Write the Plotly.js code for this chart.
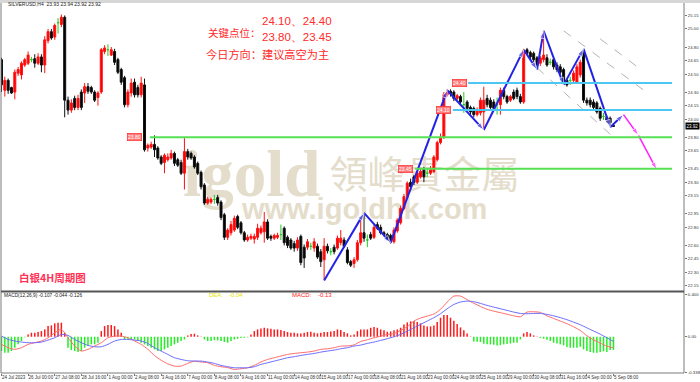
<!DOCTYPE html>
<html><head><meta charset="utf-8">
<script src="https://cdn.plot.ly/plotly-3.0.1.min.js"></script>
<style>html,body{margin:0;padding:0;background:#fff}#chart{width:700px;height:382px}</style>
</head><body><div id="chart"></div>
<script>
// ---------------- DATA ----------------
const openP = [24.66,24.32,24.43,24.35,24.30,24.51,24.49,24.60,24.62,24.66,24.67,24.62,24.69,24.60,24.87,24.97,24.91,25.07,25.05,25.13,
24.21,24.10,24.23,24.13,24.30,24.29,24.36,24.35,24.30,24.24,24.30,24.75,24.77,24.71,24.75,24.66,24.55,24.46,24.16,24.29,
24.41,24.35,24.27,24.38,23.68,23.69,23.72,23.68,23.58,23.52,23.55,23.57,23.62,23.55,23.52,23.40,23.64,23.62,23.58,23.51,
23.41,23.27,23.07,23.08,23.11,23.13,23.08,22.94,22.69,22.74,22.77,22.92,22.85,22.74,22.66,22.68,22.67,22.69,22.74,22.75,
22.86,22.70,22.68,22.69,22.72,22.79,22.69,22.66,22.62,22.57,22.70,22.58,22.58,22.59,22.57,22.59,22.53,22.44,22.59,22.53,
22.58,22.57,22.63,22.66,22.55,22.42,22.40,22.44,22.63,22.74,22.66,22.72,22.69,22.83,22.80,22.74,22.72,22.71,22.64,22.76,
22.85,23.01,23.14,23.30,23.36,23.30,23.36,23.44,23.40,23.40,23.42,23.55,23.74,23.80,24.27,24.31,24.30,24.23,24.25,24.16,
24.19,24.13,24.12,24.05,24.07,24.08,24.23,24.21,24.19,24.16,24.16,24.32,24.25,24.21,24.30,24.32,24.25,24.19,24.77,24.74,
24.73,24.68,24.62,24.66,24.68,24.63,24.66,24.60,24.58,24.55,24.43,24.43,24.43,24.41,24.49,24.74,24.21,24.21,24.19,24.18,
24.12,24.03,24.02,24.01,23.93];
const highP = [24.68,24.47,24.45,24.36,24.55,24.58,24.64,24.68,24.75,24.69,24.72,24.73,24.72,24.92,25.00,25.00,25.06,25.12,25.16,25.15,
24.25,24.22,24.26,24.27,24.33,24.40,24.40,24.37,24.32,24.31,24.79,24.82,24.83,24.80,24.78,24.68,24.57,24.48,24.33,24.45,
24.45,24.38,24.47,24.45,23.73,23.75,23.82,23.70,23.60,23.62,23.62,23.66,23.64,23.57,23.55,23.79,23.67,23.64,23.60,23.53,
23.43,23.29,23.14,23.13,23.16,23.16,23.10,22.96,22.79,22.87,22.93,22.94,22.87,22.76,22.72,22.73,22.73,22.84,22.82,22.97,
22.89,22.72,22.73,22.74,22.83,22.81,22.71,22.68,22.65,22.69,22.72,22.61,22.67,22.63,22.68,22.62,22.56,22.68,22.62,22.57,
22.61,22.71,22.77,22.69,22.58,22.44,22.47,22.66,22.90,22.96,22.72,22.75,22.83,22.86,22.83,22.76,22.74,22.73,22.80,22.90,
23.04,23.17,23.31,23.34,23.38,23.43,23.46,23.47,23.45,23.48,23.60,23.76,23.84,24.30,24.33,24.33,24.32,24.28,24.27,24.30,
24.21,24.15,24.14,24.13,24.24,24.36,24.27,24.24,24.22,24.24,24.35,24.35,24.27,24.27,24.33,24.35,24.28,24.78,24.79,24.76,
24.75,24.70,24.70,24.98,24.72,24.67,24.68,24.63,24.61,24.57,24.45,24.47,24.54,24.61,24.66,24.78,24.24,24.24,24.22,24.20,
24.14,24.07,24.04,24.03,23.94];
const lowP = [24.30,24.25,24.28,24.28,24.22,24.48,24.44,24.58,24.60,24.63,24.57,24.60,24.52,24.51,24.84,24.88,24.88,24.95,25.02,24.02,
24.05,24.07,24.10,24.10,24.10,24.18,24.28,24.28,24.19,24.15,24.28,24.72,24.70,24.70,24.60,24.50,24.38,24.13,24.13,24.25,
24.24,24.24,24.24,23.64,23.64,23.67,23.58,23.55,23.49,23.40,23.53,23.55,23.48,23.47,23.38,23.22,23.55,23.55,23.45,23.38,
23.22,23.05,23.05,23.06,23.06,23.04,22.88,22.66,22.66,22.71,22.75,22.78,22.72,22.64,22.64,22.66,22.62,22.66,22.72,22.63,
22.66,22.65,22.66,22.67,22.66,22.60,22.57,22.55,22.53,22.54,22.38,22.35,22.55,22.55,22.53,22.45,22.36,22.22,22.51,22.49,
22.50,22.55,22.60,22.57,22.39,22.36,22.35,22.42,22.60,22.64,22.58,22.66,22.67,22.77,22.72,22.70,22.66,22.62,22.62,22.74,
22.83,22.99,23.12,23.22,23.27,23.28,23.34,23.30,23.36,23.38,23.40,23.53,23.72,23.78,24.25,24.25,24.20,24.21,24.16,24.07,
24.10,24.05,24.02,24.03,24.04,23.88,24.13,24.10,24.09,24.05,24.05,24.22,24.17,24.19,24.21,24.22,24.17,24.17,24.71,24.66,
24.63,24.55,24.59,24.63,24.58,24.60,24.55,24.52,24.49,24.38,24.36,24.38,24.40,24.39,24.46,24.18,24.15,24.13,24.10,24.06,
23.98,23.99,23.96,23.91,23.92];
const closeP = [24.38,24.43,24.32,24.29,24.52,24.55,24.62,24.66,24.71,24.66,24.62,24.69,24.60,24.88,24.97,24.90,25.04,25.07,25.13,24.21,
24.10,24.18,24.13,24.23,24.13,24.36,24.31,24.30,24.21,24.29,24.77,24.79,24.77,24.77,24.63,24.52,24.41,24.16,24.30,24.40,
24.27,24.27,24.40,23.66,23.71,23.72,23.66,23.57,23.51,23.60,23.58,23.62,23.51,23.49,23.40,23.64,23.58,23.57,23.47,23.40,
23.25,23.07,23.11,23.11,23.11,23.07,22.91,22.69,22.77,22.83,22.90,22.80,22.74,22.66,22.69,22.70,22.70,22.79,22.79,22.86,
22.68,22.68,22.71,22.71,22.72,22.63,22.60,22.57,22.57,22.66,22.41,22.46,22.64,22.59,22.64,22.47,22.42,22.59,22.54,22.53,
22.53,22.68,22.68,22.59,22.41,22.38,22.44,22.63,22.74,22.68,22.66,22.68,22.80,22.79,22.74,22.72,22.68,22.64,22.77,22.88,
23.01,23.14,23.29,23.25,23.30,23.40,23.42,23.36,23.40,23.44,23.58,23.74,23.80,24.27,24.30,24.28,24.23,24.26,24.19,24.16,
24.12,24.08,24.05,24.10,24.21,24.21,24.16,24.13,24.12,24.16,24.32,24.25,24.19,24.25,24.23,24.25,24.19,24.76,24.73,24.69,
24.66,24.60,24.68,24.71,24.60,24.63,24.58,24.55,24.52,24.40,24.38,24.43,24.51,24.58,24.63,24.21,24.18,24.16,24.13,24.08,
24.01,24.03,23.99,23.96,23.92];

const macdHist = [-0.137,-0.153,-0.153,-0.137,-0.105,-0.073,-0.041,-0.006,0.022,0.038,0.038,0.045,0.054,0.070,0.102,0.108,0.128,0.134,0.134,0.038,
-0.105,-0.128,-0.137,-0.147,-0.137,-0.105,-0.089,-0.073,-0.073,-0.057,0.054,0.102,0.112,0.112,0.102,0.070,0.038,-0.026,-0.019,-0.026,
-0.026,-0.041,-0.057,-0.073,-0.089,-0.105,-0.121,-0.137,-0.137,-0.121,-0.105,-0.089,-0.073,-0.057,-0.041,-0.026,0.013,0.026,0.029,0.013,
0.003,-0.026,-0.041,-0.041,-0.032,-0.035,-0.041,-0.051,-0.057,-0.041,-0.026,-0.019,-0.013,-0.010,-0.006,0.022,0.054,0.070,0.080,0.086,
0.080,0.077,0.070,0.070,0.064,0.054,0.045,0.038,0.038,0.032,0.032,0.038,0.045,0.048,0.038,0.032,0.038,0.045,0.045,0.051,
0.054,0.070,0.064,0.045,0.032,0.013,0.022,0.054,0.070,0.070,0.070,0.086,0.093,0.086,0.070,0.061,0.048,0.051,0.061,0.070,
0.086,0.118,0.137,0.147,0.150,0.140,0.128,0.108,0.099,0.099,0.108,0.140,0.182,0.207,0.207,0.182,0.153,0.121,0.089,0.061,
0.032,0.003,-0.045,-0.048,-0.051,-0.067,-0.073,-0.073,-0.077,-0.083,-0.080,-0.073,-0.070,-0.064,-0.057,-0.057,-0.026,0.032,0.045,0.032,
0.013,0.003,-0.010,-0.019,-0.029,-0.041,-0.057,-0.064,-0.073,-0.083,-0.099,-0.105,-0.105,-0.105,-0.096,-0.121,-0.137,-0.147,-0.153,-0.153,
-0.147,-0.140,-0.147,-0.128,-0.126];
// DIF (red) and DEA (blue) sampled every second bar
const macdDif = [-0.073,-0.105,-0.121,-0.105,-0.073,-0.057,-0.041,-0.010,0.038,0.070,-0.010,-0.089,-0.137,-0.121,-0.089,-0.057,-0.010,0.006,0.006,-0.010,
-0.041,-0.073,-0.120,-0.180,-0.225,-0.260,-0.281,-0.281,-0.255,-0.233,-0.242,-0.249,-0.274,-0.287,-0.295,-0.313,-0.306,-0.297,-0.274,-0.242,
-0.217,-0.201,-0.185,-0.169,-0.160,-0.153,-0.147,-0.137,-0.121,-0.115,-0.105,-0.090,-0.088,-0.078,-0.045,-0.029,-0.010,0.005,0.022,0.030,
0.061,0.096,0.150,0.179,0.198,0.217,0.262,0.332,0.389,0.389,0.355,0.320,0.290,0.262,0.245,0.230,0.215,0.200,0.191,0.236,
0.239,0.233,0.200,0.175,0.150,0.125,0.095,0.060,0.010,-0.030,-0.060,-0.090,-0.107];
const macdDea = [0.006,-0.026,-0.041,-0.051,-0.057,-0.057,-0.051,-0.032,-0.010,0.022,0.013,-0.026,-0.057,-0.083,-0.096,-0.096,-0.073,-0.041,-0.026,-0.026,
-0.032,-0.041,-0.064,-0.105,-0.137,-0.169,-0.201,-0.217,-0.230,-0.233,-0.233,-0.242,-0.255,-0.274,-0.287,-0.297,-0.297,-0.297,-0.287,-0.265,
-0.249,-0.233,-0.217,-0.201,-0.191,-0.179,-0.169,-0.160,-0.147,-0.137,-0.128,-0.115,-0.105,-0.089,-0.080,-0.064,-0.051,-0.035,-0.019,0.000,
0.022,0.054,0.086,0.118,0.150,0.182,0.220,0.268,0.309,0.332,0.341,0.335,0.319,0.300,0.284,0.268,0.252,0.236,0.223,0.220,
0.223,0.223,0.214,0.200,0.183,0.163,0.140,0.115,0.085,0.055,0.025,-0.010,-0.044];
const macdStep = 2;

const xTickLabels = ["24 Jul 2023","26 Jul 00:00","27 Jul 08:00","28 Jul 16:00","1 Aug 00:00","2 Aug 08:00","3 Aug 16:00",
"7 Aug 00:00","8 Aug 08:00","9 Aug 16:00","11 Aug 00:00","14 Aug 08:00","15 Aug 16:00","17 Aug 00:00","18 Aug 08:00",
"21 Aug 16:00","23 Aug 00:00","24 Aug 08:00","25 Aug 16:00","29 Aug 00:00","30 Aug 08:00","31 Aug 16:00","4 Sep 00:00","5 Sep 08:00"];
const xTickStep = 8;
const priceTicks = [25.15,25.00,24.80,24.65,24.50,24.30,24.15,24.00,23.80,23.65,23.45,23.30,23.15,22.95,22.80,22.60,22.45,22.30,22.15];
const macdTicks = [0.4,0,-0.338];
const macdTickText = ["0.400","0.00","-0.338"];
const lastPrice = 23.92;

// key levels (price, first bar, last bar)
const levelPrice = [24.40, 24.10, 23.80, 23.45];
const levelFrom = [140.3, 135.7, 44.6, 124.3];
const levelTo = [201.6, 201.6, 201.6, 201.6];

// zigzag swing points (bar, price)
const zzBar = [97, 109, 117, 134, 145, 157, 161, 163, 169, 175, 183, 187];
const zzPrice = [22.21, 22.96, 22.63, 24.32, 23.88, 24.77, 24.55, 24.98, 24.38, 24.78, 23.91, 24.05];
// projected path (magenta)
const projBar = [187, 191.5, 197];
const projPrice = [24.05, 23.82, 23.44];
// channel lines (grey dashed)
const chanA_bar = [169, 193.5], chanA_price = [24.98, 24.31];
const chanB_bar = [180, 193], chanB_price = [24.89, 24.53];
const chanC_bar = [161, 184], chanC_price = [24.57, 23.80];

// ---------------- BUILD ----------------
const bars = openP.map((_, i) => i);
const isDoji = bars.map(i => openP[i] === closeP[i]);
const pick = (arr, keep) => arr.map((v, i) => keep(i) ? v : null);
const notD = i => !isDoji[i], yesD = i => isDoji[i];

const YR = [22.094, 25.288];
const MR = [-0.347, 0.428];

const traces = [];
// watermark on base subplot (below everything on overlay)
traces.push({type:'scatter', mode:'text', x:[54.6], y:[23.33], text:['igold'], textposition:'middle right',
  textfont:{family:'Liberation Serif', size:65, color:'#e4ddcb', weight:'bold'}, xaxis:'x', yaxis:'y', hoverinfo:'skip'});
traces.push({type:'scatter', mode:'text', x:[98.6], y:[23.34], text:['領峰貴金屬'], textposition:'middle right',
  textfont:{family:'Noto Sans CJK TC', size:38, color:'#e4ddcb'}, xaxis:'x', yaxis:'y', hoverinfo:'skip'});
traces.push({type:'scatter', mode:'text', x:[72.3], y:[22.97], text:['www.igoldhk.com'], textposition:'middle right',
  textfont:{family:'Liberation Sans', size:29, color:'#e4ddcb', weight:'bold'}, xaxis:'x', yaxis:'y', hoverinfo:'skip'});

traces.push({type:'candlestick', x:bars, open:pick(openP,notD), high:pick(highP,notD), low:pick(lowP,notD), close:pick(closeP,notD),
  xaxis:'x', yaxis:'y3', whiskerwidth:0, hoverinfo:'skip',
  increasing:{line:{color:'#ff1010', width:1}, fillcolor:'#ff0000'},
  decreasing:{line:{color:'#111111', width:1}, fillcolor:'#000000'}});
traces.push({type:'candlestick', x:bars, open:pick(openP,yesD), high:pick(highP,yesD), low:pick(lowP,yesD), close:pick(closeP,yesD),
  xaxis:'x', yaxis:'y3', whiskerwidth:0, hoverinfo:'skip',
  increasing:{line:{color:'#22cc22', width:1}, fillcolor:'#22cc22'},
  decreasing:{line:{color:'#22cc22', width:1}, fillcolor:'#22cc22'}});

// channel lines
[[chanA_bar,chanA_price],[chanB_bar,chanB_price],[chanC_bar,chanC_price]].forEach(([bx,py]) => {
  traces.push({type:'scatter', mode:'lines', x:bx, y:py, xaxis:'x', yaxis:'y3', hoverinfo:'skip',
    line:{color:'#b4b4b4', width:1, dash:'dash'}});
});
// zigzag
traces.push({type:'scatter', mode:'lines+markers', x:zzBar, y:zzPrice, xaxis:'x', yaxis:'y3', hoverinfo:'skip',
  line:{color:'#2222e6', width:2},
  marker:{symbol:'arrow', angleref:'previous', size:zzBar.map((_, k) => k === 0 ? 0 : 8), color:'#2222e6'}});
// projection
traces.push({type:'scatter', mode:'lines+markers', x:projBar, y:projPrice, xaxis:'x', yaxis:'y3', hoverinfo:'skip',
  line:{color:'#ff22ff', width:1.5},
  marker:{symbol:'arrow', angleref:'previous', size:projBar.map((_, k) => k === 0 ? 0 : 8), color:'#ff22ff'}});

// MACD
traces.push({type:'bar', x:bars, y:macdHist, xaxis:'x', yaxis:'y2', width:0.45, hoverinfo:'skip',
  marker:{color:macdHist.map(v => v >= 0 ? '#ff1a1a' : '#22ee22'), line:{width:0}}});
const macdBars = macdDif.map((_, k) => k * macdStep);
traces.push({type:'scatter', mode:'lines', x:macdBars, y:macdDif, xaxis:'x', yaxis:'y2', hoverinfo:'skip',
  line:{color:'#ff6a6a', width:1, shape:'spline', smoothing:0.6}});
traces.push({type:'scatter', mode:'lines', x:macdBars, y:macdDea, xaxis:'x', yaxis:'y2', hoverinfo:'skip',
  line:{color:'#6a6aff', width:1, shape:'spline', smoothing:0.6}});

const levelColor = ['#4cc6f2','#4cc6f2','#55e055','#55e055'];
const shapes = levelPrice.map((p, k) => ({type:'line', xref:'x', yref:'y3', x0:levelFrom[k], x1:levelTo[k], y0:p, y1:p,
  line:{color:levelColor[k], width:2}, layer:'above'}));
// frame
const frame = '#7a7a7a';
shapes.push({type:'rect', xref:'paper', yref:'paper', x0:-0.01, x1:1.03, y0:1, y1:1.009, fillcolor:'#d6d6d6', line:{width:0}, layer:'above'});
shapes.push({type:'line', xref:'paper', yref:'paper', x0:0, x1:0, y0:0, y1:1, line:{color:frame, width:1}});
shapes.push({type:'line', xref:'paper', yref:'paper', x0:1, x1:1, y0:0, y1:1, line:{color:frame, width:1}});
shapes.push({type:'line', xref:'paper', yref:'paper', x0:0, x1:1, y0:0.2203, y1:0.2203, line:{color:'#555', width:2}});
shapes.push({type:'line', xref:'paper', yref:'paper', x0:0, x1:1, y0:0, y1:0, line:{color:frame, width:1}});

const red = '#ff2a2a';
const ann = [];
const A = (o) => ann.push(Object.assign({showarrow:false, xref:'paper', yref:'paper', xanchor:'left', yanchor:'middle', borderpad:0}, o));
A({x:0.0085, y:0.996, text:'SILVERUSD,H4  23.93 23.94 23.92 23.92', font:{family:'Liberation Sans', size:5, color:'#222'}});
A({x:0.301, y:0.919, text:'关键点位：', font:{family:'Noto Sans CJK SC', size:10.5, color:red}});
A({x:0.381, y:0.951, text:'24.10、24.40', font:{family:'Liberation Sans', size:11.5, color:red}});
A({x:0.381, y:0.907, text:'23.80、23.45', font:{family:'Liberation Sans', size:11.5, color:red}});
A({x:0.298, y:0.862, text:'今日方向：建议高空为主', font:{family:'Noto Sans CJK SC', size:11.2, color:red}});
A({x:0.025, y:0.257, text:'白银4H周期图', font:{family:'Noto Sans CJK SC', size:10.5, color:'#ff3355', weight:'bold'}});
A({x:0.003, y:0.2085, text:'MACD(12,26,9) -0.107 -0.044 -0.126', font:{family:'Liberation Sans', size:4.8, color:'#222'}});
A({x:0.303, y:0.2105, text:'DEA:', font:{family:'Liberation Sans', size:6, color:'#e6e600'}});
A({x:0.333, y:0.2105, text:'-0.04', font:{family:'Liberation Sans', size:6, color:'#e6e600'}});
A({x:0.425, y:0.2105, text:'MACD:', font:{family:'Liberation Sans', size:6, color:'#ff2020'}});
A({x:0.462, y:0.2105, text:'-0.13', font:{family:'Liberation Sans', size:6, color:'#ff2020'}});
// level tags
const tagShift = [-1, -2, -8, -2];
levelPrice.forEach((p, k) => ann.push({showarrow:false, xref:'x', yref:'y3', x:levelFrom[k], y:p, xanchor:'right', yanchor:'middle',
  xshift:tagShift[k], text:p.toFixed(2), font:{family:'Liberation Sans', size:5, color:'#ffffff'},
  bgcolor:'#ff7a7a', bordercolor:'#ff2020', borderwidth:0.6, borderpad:0.5}));
// last price tag
ann.push({showarrow:false, xref:'paper', yref:'y3', x:1.001, y:lastPrice, xanchor:'left', yanchor:'middle', text:lastPrice.toFixed(2),
  font:{family:'Liberation Sans', size:4.5, color:'#fff'}, bgcolor:'#000', borderpad:0.5});

const axFont = {family:'Liberation Sans', size:4.3, color:'#333'};
const layout = {
  width:700, height:382, margin:{l:1, r:16, t:3, b:9}, paper_bgcolor:'#fff', plot_bgcolor:'#fff',
  showlegend:false, boxgap:0.25, boxgroupgap:0.2, bargap:0.5, hovermode:false,
  xaxis:{range:[-0.15,205.2], anchor:'y2', rangeslider:{visible:false}, tickvals:xTickLabels.map((_, k) => k * xTickStep),
    ticktext:xTickLabels, ticks:'outside', ticklen:2, tickcolor:'#777', ticklabelposition:'outside right', tickangle:0,
    tickfont:{family:'Liberation Sans', size:4.5, color:'#333'}, showgrid:false, zeroline:false, showline:false, fixedrange:true},
  yaxis:{domain:[0.2216,1], range:YR, visible:false, fixedrange:true},
  yaxis3:{overlaying:'y', anchor:'x', side:'right', range:YR, tickvals:priceTicks, ticktext:priceTicks.map(v => v.toFixed(2)),
    ticks:'outside', ticklen:2, tickcolor:'#777', tickfont:axFont, showgrid:false, zeroline:false, showline:false, fixedrange:true},
  yaxis2:{domain:[0,0.2189], anchor:'x', side:'right', range:MR, tickvals:macdTicks, ticktext:macdTickText,
    ticks:'outside', ticklen:2, tickcolor:'#777', tickfont:axFont, showgrid:false, zeroline:false, showline:false, fixedrange:true},
  shapes:shapes, annotations:ann
};
Plotly.newPlot('chart', traces, layout, {displayModeBar:false, staticPlot:true});
</script></body></html>
